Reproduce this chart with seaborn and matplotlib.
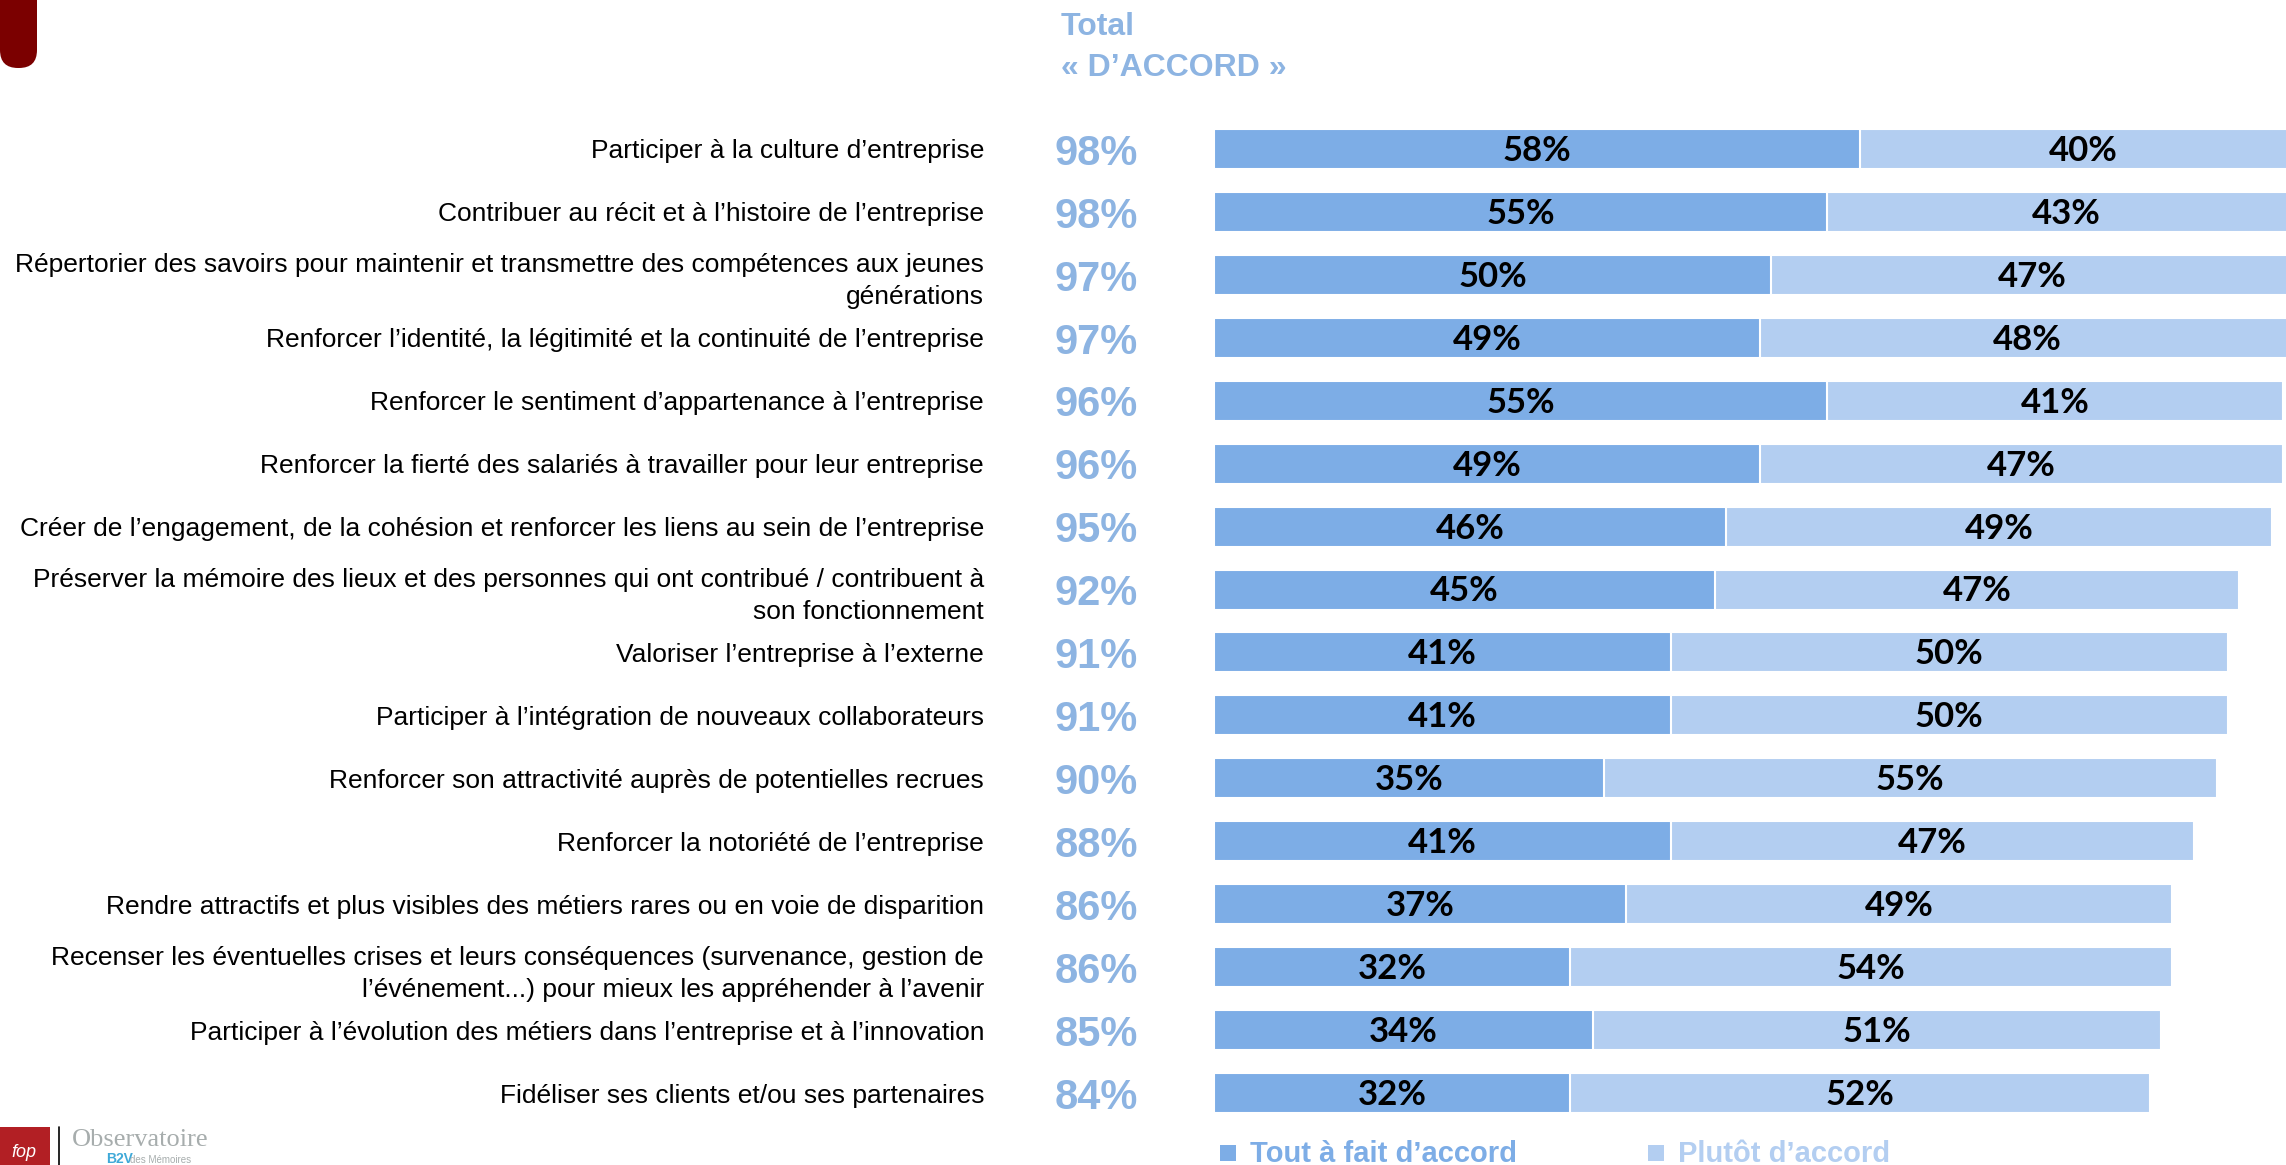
import matplotlib
matplotlib.use("Agg")
import matplotlib.pyplot as plt
import matplotlib.transforms as mtransforms
from matplotlib.patches import Rectangle, FancyBboxPatch
import seaborn as sns
import pandas as pd

# ---- data -------------------------------------------------------------------
labels = [
    "Participer à la culture d’entreprise",
    "Contribuer au récit et à l’histoire de l’entreprise",
    "Répertorier des savoirs pour maintenir et transmettre des compétences aux jeunes\ngénérations",
    "Renforcer l’identité, la légitimité et la continuité de l’entreprise",
    "Renforcer le sentiment d’appartenance à l’entreprise",
    "Renforcer la fierté des salariés à travailler pour leur entreprise",
    "Créer de l’engagement, de la cohésion et renforcer les liens au sein de l’entreprise",
    "Préserver la mémoire des lieux et des personnes qui ont contribué / contribuent à\nson fonctionnement",
    "Valoriser l’entreprise à l’externe",
    "Participer à l’intégration de nouveaux collaborateurs",
    "Renforcer son attractivité auprès de potentielles recrues",
    "Renforcer la notoriété de l’entreprise",
    "Rendre attractifs et plus visibles des métiers rares ou en voie de disparition",
    "Recenser les éventuelles crises et leurs conséquences (survenance, gestion de\nl’événement...) pour mieux les appréhender à l’avenir",
    "Participer à l’évolution des métiers dans l’entreprise et à l’innovation",
    "Fidéliser ses clients et/ou ses partenaires",
]
tout_a_fait = [58, 55, 50, 49, 55, 49, 46, 45, 41, 41, 35, 41, 37, 32, 34, 32]
plutot = [40, 43, 47, 48, 41, 47, 49, 47, 50, 50, 55, 47, 49, 54, 51, 52]
total_accord = [98, 98, 97, 97, 96, 96, 95, 92, 91, 91, 90, 88, 86, 86, 85, 84]
series_names = ["Tout à fait d’accord", "Plutôt d’accord"]

DARK = "#7DADE6"
LIGHT = "#B3CEF1"
TOTAL_C = "#8DB4E2"

W, H = 2286, 1165
df = pd.DataFrame({"label": labels, "tout": tout_a_fait, "plutot": plutot})
df["cumul"] = df["tout"] + df["plutot"]

sns.set_style("white")
plt.rcParams["font.family"] = ["Liberation Sans", "DejaVu Sans"]

fig = plt.figure(figsize=(W / 100, H / 100), dpi=100)

# main axes: x=0 at px 1214, rows centred from px 149 to 1093
top_px, bot_px = 149 - 31.5, 1093 + 31.5
ax = fig.add_axes([1214 / W, 1 - bot_px / H, (W - 1214) / W, (bot_px - top_px) / H])

sns.barplot(data=df, x="cumul", y="label", orient="h", color=LIGHT, saturation=1,
            width=0.635, edgecolor="white", linewidth=1.5, ax=ax)
sns.barplot(data=df, x="tout", y="label", orient="h", color=DARK, saturation=1,
            width=0.635, edgecolor="white", linewidth=1.5, ax=ax)

ax.set_xlim(0, (W - 1214) / 11.14)
ax.set_ylim(len(labels) - 0.5, -0.5)
ax.set_xlabel("")
ax.set_ylabel("")
ax.set_xticks([])
for s in ax.spines.values():
    s.set_visible(False)
ax.tick_params(axis="y", length=0, pad=165.6, labelsize=19, labelcolor="black")
for t in ax.get_yticklabels():
    t.set_linespacing(1.42)

# segment labels
for i, (a, b) in enumerate(zip(tout_a_fait, plutot)):
    ax.text(a / 2, i + 0.19, f"{a}%", ha="center", va="baseline", fontsize=25,
            fontweight="bold", family="Lato", color="black")
    ax.text(a + b / 2, i + 0.19, f"{b}%", ha="center", va="baseline", fontsize=25,
            fontweight="bold", family="Lato", color="black")

# total "d'accord" column
trans = mtransforms.blended_transform_factory(fig.transFigure, ax.transData)
for i, v in enumerate(total_accord):
    ax.text(1096 / W, i + 0.25, f"{v}%", transform=trans, ha="center", va="baseline",
            fontsize=30, fontweight="bold", color=TOTAL_C)

# ---- decorations in pixel coordinates --------------------------------------
ov = fig.add_axes([0, 0, 1, 1], facecolor="none")
ov.set_xlim(0, W)
ov.set_ylim(H, 0)
ov.axis("off")

ov.text(1061, 35, "Total", fontsize=23, fontweight="bold", color=TOTAL_C, va="baseline")
ov.text(1061, 76, "« D’ACCORD »", fontsize=23, fontweight="bold", color=TOTAL_C, va="baseline")

# legend
for x0, name, c in [(1220, series_names[0], DARK), (1648, series_names[1], LIGHT)]:
    ov.add_patch(Rectangle((x0, 1145), 16, 16, color=c, lw=0))
    ov.text(x0 + 30, 1162, name, fontsize=21, fontweight="bold", color=c, va="baseline")

# top-left tab
ov.add_patch(FancyBboxPatch((0, -60), 37, 128, boxstyle="round,pad=0,rounding_size=18",
                            color="#7B0000", lw=0))

# bottom-left logo
ov.add_patch(Rectangle((0, 1127), 50, 40, color="#B21F24", lw=0))
ov.text(24, 1157, "fop", fontsize=13, color="white", ha="center", va="baseline", style="italic")
ov.plot([59, 59], [1127, 1165], color="black", lw=1.2)
ov.text(72, 1146, "Observatoire", family="Liberation Serif", fontsize=19,
        color="#A7ADAD", va="baseline")
ov.text(106, 1163, "B2V", fontsize=10, fontweight="bold", color="#3FA9D8", va="baseline")
ov.text(130, 1163, "des Mémoires", fontsize=7, color="#A7ADAD", va="baseline")

fig.savefig("out.png", dpi=100)
